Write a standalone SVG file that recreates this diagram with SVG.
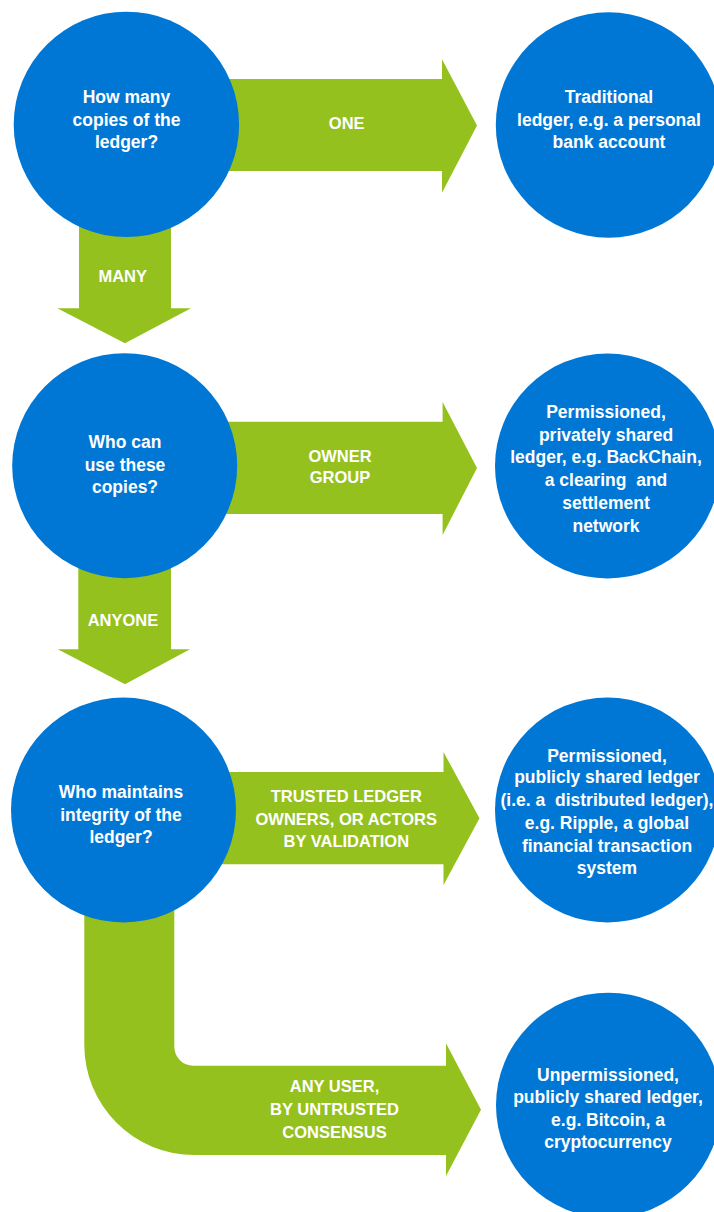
<svg xmlns="http://www.w3.org/2000/svg" width="714" height="1212" viewBox="0 0 714 1212">
<style>
.c{fill:#0077D5}
.a{fill:#95C11F}
.t{font-family:"Liberation Sans",Arial,sans-serif;font-weight:bold;font-size:17.5px;fill:#ffffff;text-anchor:middle}
.l{font-size:16.5px}
</style>
<rect x="0" y="0" width="714" height="1212" fill="#ffffff"/>
<g id="connectors">
  <g id="arrow-one">
    <path class="a" d="M126 79 L442 79 L442 59.3 L477 125.5 L442 192.7 L442 171 L126 171 Z"/>
    <text class="t l" x="346.7" y="129">ONE</text>
  </g>
  <g id="arrow-many">
    <path class="a" d="M79 124 L171 124 L171 308.3 L191 308.3 L125 343.3 L57.3 308.3 L79 308.3 Z"/>
    <text class="t l" x="122.7" y="281.7">MANY</text>
  </g>
  <g id="arrow-owner">
    <path class="a" d="M125 421.7 L442.6 421.7 L442.6 402 L477 468 L442.6 535 L442.6 514 L125 514 Z"/>
    <text class="t l" x="340" y="461.7">OWNER</text>
    <text class="t l" x="340" y="483.3">GROUP</text>
  </g>
  <g id="arrow-anyone">
    <path class="a" d="M78.3 466 L171 466 L171 649.3 L190 649.3 L125 684.3 L57.8 649.3 L78.3 649.3 Z"/>
    <text class="t l" x="123" y="626">ANYONE</text>
  </g>
  <g id="arrow-trusted">
    <path class="a" d="M124 772 L443.5 772 L443.5 752 L479.5 818.3 L443.5 885 L443.5 864.3 L124 864.3 Z"/>
    <text class="t l" x="346.3" y="802.3">TRUSTED LEDGER</text>
    <text class="t l" x="346.3" y="825">OWNERS, OR ACTORS</text>
    <text class="t l" x="346.3" y="847.3">BY VALIDATION</text>
  </g>
  <g id="arrow-anyuser">
    <path class="a" d="M84.3 810 L174.3 810 L174.3 1046.7 A19 19 0 0 0 193.3 1065.7 L446 1065.7 L446 1043.3 L481 1109.7 L446 1176 L446 1155 L194.3 1155 A110 110 0 0 1 84.3 1045 Z"/>
    <text class="t l" x="334.5" y="1092.3">ANY USER,</text>
    <text class="t l" x="334.5" y="1115">BY UNTRUSTED</text>
    <text class="t l" x="334.5" y="1137.7">CONSENSUS</text>
  </g>
</g>
<g id="q1">
  <circle class="c" cx="126.4" cy="124.4" r="112.7"/>
  <text class="t" x="126.5" y="103.3">How many</text>
  <text class="t" x="126.5" y="125.8">copies of the</text>
  <text class="t" x="126.5" y="148.3">ledger?</text>
</g>
<g id="r1">
  <circle class="c" cx="608.5" cy="125" r="112.7"/>
  <text class="t" x="609" y="103.3">Traditional</text>
  <text class="t" x="609" y="126">ledger, e.g. a personal</text>
  <text class="t" x="609" y="147.7">bank account</text>
</g>
<g id="q2">
  <circle class="c" cx="124.7" cy="465.7" r="112.5"/>
  <text class="t" x="125" y="448.3">Who can</text>
  <text class="t" x="125" y="470.5">use these</text>
  <text class="t" x="125" y="492.5">copies?</text>
</g>
<g id="r2">
  <circle class="c" cx="607.5" cy="466" r="112.5"/>
  <text class="t" x="606" y="417.7">Permissioned,</text>
  <text class="t" x="606" y="440.7">privately shared</text>
  <text class="t" x="606" y="463.3">ledger, e.g. BackChain,</text>
  <text class="t" x="606" y="486" xml:space="preserve">a clearing  and</text>
  <text class="t" x="606" y="509">settlement</text>
  <text class="t" x="606" y="531.7">network</text>
</g>
<g id="q3">
  <circle class="c" cx="123.5" cy="810" r="112.5"/>
  <text class="t" x="121" y="798.3">Who maintains</text>
  <text class="t" x="121" y="820.7">integrity of the</text>
  <text class="t" x="121" y="842.7">ledger?</text>
</g>
<g id="r3">
  <circle class="c" cx="607.5" cy="810" r="112.5"/>
  <text class="t" x="607" y="761.7">Permissioned,</text>
  <text class="t" x="607" y="783.3">publicly shared ledger</text>
  <text class="t" x="607" y="806" xml:space="preserve">(i.e. a  distributed ledger),</text>
  <text class="t" x="607" y="829">e.g. Ripple, a global</text>
  <text class="t" x="607" y="851.7">financial transaction</text>
  <text class="t" x="607" y="874">system</text>
</g>
<g id="r4">
  <circle class="c" cx="608.5" cy="1105.2" r="112.5"/>
  <text class="t" x="608" y="1080.7">Unpermissioned,</text>
  <text class="t" x="608" y="1103.3">publicly shared ledger,</text>
  <text class="t" x="608" y="1126">e.g. Bitcoin, a</text>
  <text class="t" x="608" y="1148.3">cryptocurrency</text>
</g>
</svg>
